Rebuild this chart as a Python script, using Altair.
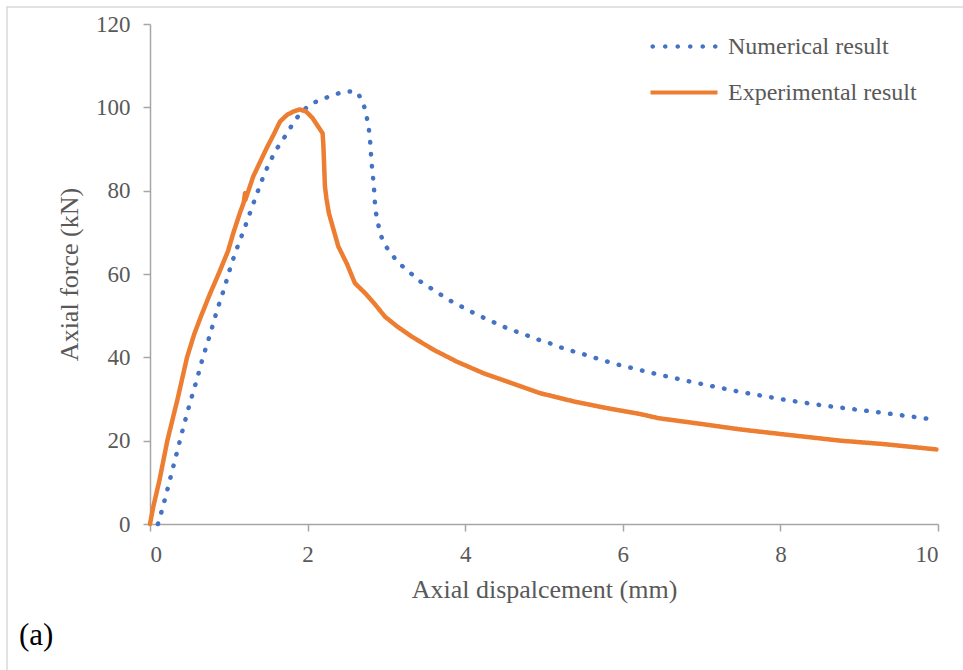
import altair as alt
import pandas as pd

# Numerical result (dotted blue)
num_x = [0.10, 0.15, 0.19, 0.266, 0.343, 0.42, 0.50, 0.588, 0.668, 0.761, 0.846, 0.943,
         1.03, 1.10, 1.20, 1.345, 1.45, 1.586, 1.755, 1.83, 1.93, 2.04, 2.18, 2.33, 2.47,
         2.62, 2.70, 2.74, 2.77, 2.79, 2.81, 2.84, 2.86, 2.88, 2.92, 2.98, 3.07, 3.17,
         3.29, 3.40, 3.53, 3.66, 3.79, 3.93, 4.06, 4.20, 4.34, 4.48, 4.63, 4.78, 4.92,
         5.07, 5.21, 5.36, 5.51, 5.66, 5.80, 5.95, 6.10, 6.25, 6.40, 6.85, 7.46, 8.06,
         8.52, 9.29, 9.90]
num_y = [0.0, 3.2, 6.0, 11.6, 17.3, 23.0, 28.6, 34.2, 39.8, 45.4, 51.0, 56.6,
         62.2, 66.0, 71.0, 78.7, 84.0, 89.4, 94.2, 96.7, 99.0, 100.8, 101.9, 103.0, 103.8,
         103.8, 101.5, 98.6, 95.8, 92.8, 87.1, 81.3, 75.4, 73.5, 69.7, 67.0, 64.6, 62.4,
         60.5, 58.6, 57.0, 55.4, 53.8, 52.4, 51.1, 49.8, 48.6, 47.4, 46.3, 45.3, 44.3,
         43.4, 42.4, 41.5, 40.7, 39.8, 39.0, 38.2, 37.5, 36.8, 36.1, 34.2, 31.8, 29.8,
         28.5, 26.7, 25.2]

# Experimental result (solid orange)
exp_x = [0.0, 0.04, 0.12, 0.22, 0.35, 0.47, 0.56, 0.65, 0.76, 0.87, 0.99, 1.06, 1.14,
         1.19, 1.206, 1.21, 1.31, 1.40, 1.48, 1.57, 1.65, 1.74, 1.82, 1.90, 1.98, 2.06,
         2.13, 2.19, 2.20, 2.21, 2.22, 2.24, 2.27, 2.33, 2.39, 2.50, 2.60, 2.73, 2.86,
         2.98, 3.13, 3.32, 3.60, 3.89, 4.23, 4.65, 4.95, 5.38, 5.80, 6.22, 6.45, 7.0,
         7.49, 8.0, 8.76, 9.3, 9.98]
exp_y = [0.0, 4.0, 10.5, 20.0, 30.0, 40.0, 45.5, 50.0, 55.2, 60.0, 65.5, 70.0, 74.6,
         77.2, 79.4, 77.8, 83.4, 87.0, 90.2, 93.5, 96.6, 98.2, 99.0, 99.5, 99.0, 97.5,
         95.5, 93.8, 91.0, 86.0, 81.0, 78.0, 74.6, 70.6, 66.6, 62.4, 57.8, 55.4, 52.6,
         49.8, 47.5, 45.0, 41.8, 39.0, 36.2, 33.4, 31.4, 29.4, 27.8, 26.4, 25.4, 24.0,
         22.7, 21.6, 20.0, 19.2, 17.9]

series_names = ["Numerical result", "Experimental result"]
series_colors = ["#4472C4", "#ED7D31"]

x_ticks = [0, 2, 4, 6, 8, 10]
y_ticks = [0, 20, 40, 60, 80, 100, 120]
panel_label = "(a)"

df = pd.concat([
    pd.DataFrame({"x": num_x, "y": num_y, "series": series_names[0], "order": range(len(num_x))}),
    pd.DataFrame({"x": exp_x, "y": exp_y, "series": series_names[1], "order": range(len(exp_x))}),
])

FONT = "Liberation Serif"
GREY = "#595959"

# legend glyphs (unit-scaled symbol paths): a row of dots and a solid bar
dot_centers = [-6.25, -3.75, -1.25, 1.25, 3.75, 6.25]
dots_path = "".join(
    f"M{c - 0.46:.2f},0a0.46,0.46 0 1,0 0.92,0a0.46,0.46 0 1,0 -0.92,0Z" for c in dot_centers
)
bar_path = "M-6.7,-0.42H6.7V0.42H-6.7Z"

color_scale = alt.Scale(domain=series_names, range=series_colors)

x_enc = alt.X("x:Q", scale=alt.Scale(domain=[0, 10], nice=False),
              axis=alt.Axis(values=x_ticks, format="d", title="Axial dispalcement (mm)", grid=False,
                            tickSize=7, labelPadding=12, titlePadding=10))
y_enc = alt.Y("y:Q", scale=alt.Scale(domain=[0, 120], nice=False),
              axis=alt.Axis(values=y_ticks, format="d", title="Axial force (kN)", grid=False,
                            tickSize=7, labelPadding=13, titlePadding=13))

lines = alt.Chart(df).mark_line(strokeWidth=4.5, strokeCap="round", strokeJoin="round").encode(
    x=x_enc,
    y=y_enc,
    color=alt.Color("series:N", scale=color_scale, legend=None),
    strokeDash=alt.StrokeDash("series:N",
                              scale=alt.Scale(domain=series_names, range=[[0.5, 11.5], [1, 0]]),
                              legend=None),
    order="order:Q",
)

legend = alt.Legend(
    title=None, orient="none", legendX=522, legendY=10.5,
    symbolSize=100, symbolStrokeWidth=0, symbolOpacity=1,
    labelFont=FONT, labelFontSize=24, labelColor=GREY,
    labelOffset=32, rowPadding=22, padding=0, labelLimit=400,
)

keys = alt.Chart(pd.DataFrame({"series": series_names, "x": [0, 0], "y": [0, 0]})).mark_point(
    filled=True, opacity=0
).encode(
    x=alt.X("x:Q"), y=alt.Y("y:Q"),
    color=alt.Color("series:N", scale=color_scale, legend=legend),
    shape=alt.Shape("series:N", scale=alt.Scale(domain=series_names, range=[dots_path, bar_path]),
                    legend=legend),
)

frame = alt.Chart(pd.DataFrame({"a": [0]})).mark_rect(
    fill=None, stroke="#d9d9d9", strokeWidth=1.5
).encode(x=alt.value(-143), x2=alt.value(1000), y=alt.value(-17), y2=alt.value(800))

label = alt.Chart(pd.DataFrame({"t": [panel_label]})).mark_text(
    font=FONT, fontSize=31, color="#000000", align="left", baseline="middle"
).encode(text="t:N", x=alt.value(-131), y=alt.value(612))

chart = alt.layer(frame, lines, keys, label).resolve_legend(
    color="independent", shape="independent"
).properties(
    width=788, height=500,
    autosize=alt.AutoSizeParams(type="none"),
    padding={"left": 150, "top": 24, "right": 25, "bottom": 146},
).configure_view(stroke=None).configure_axis(
    domainColor="#a6a6a6", tickColor="#a6a6a6", domainWidth=1.5, tickWidth=1.5,
    labelFont=FONT, labelFontSize=23, labelColor=GREY,
    titleFont=FONT, titleFontSize=26, titleColor=GREY, titleFontWeight="normal",
)

chart.save("out.html", embed_options={"renderer": "svg", "actions": False})
